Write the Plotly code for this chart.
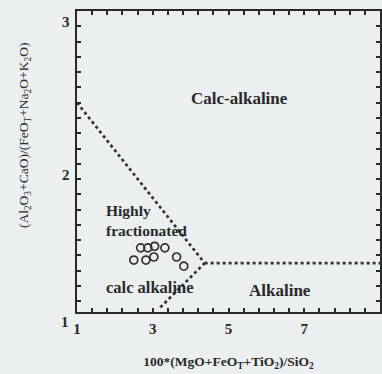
import plotly.graph_objects as go

# --- data ---
sample_x = [2.68, 2.87, 3.05, 3.32, 2.50, 2.82, 3.03, 3.63, 3.82]
sample_y = [1.45, 1.45, 1.46, 1.45, 1.37, 1.37, 1.39, 1.39, 1.33]

upper_line_x = [1.0, 4.37]
upper_line_y = [2.40, 1.35]
lower_line_x = [3.2, 4.37]
lower_line_y = [1.06, 1.35]
horiz_line_x = [4.37, 9.0]
horiz_line_y = [1.35, 1.35]

x_ticks = [1, 3, 5, 7, 9]
y_ticks = [1, 2, 3]
x_minor_step = 0.4
y_minor_step = 0.1

field_labels = ["Calc-alkaline", "Highly<br>fractionated", "calc alkaline", "Alkaline"]
field_x = [5.29, 1.72, 1.72, 6.37]
field_y = [2.43, 1.63, 1.19, 1.17]
field_anchor = ["center", "left", "left", "center"]
field_size = [17, 15.5, 16.5, 17]

BG = "rgb(236,239,240)"
INK = "#2a2a2a"
SERIF = "Liberation Serif, Times New Roman, serif"

W, H = 382, 374


def tick_positions(lo, hi, step):
    n = int(round((hi - lo) / step))
    return [round(lo + i * step, 3) for i in range(n + 1)]


x_tickvals = tick_positions(x_ticks[0], x_ticks[-1], x_minor_step)
x_ticktext = [f"<b>{int(v)}</b>" if any(abs(v - t) < 1e-6 for t in x_ticks) else "" for v in x_tickvals]
y_tickvals = tick_positions(y_ticks[0], y_ticks[-1], y_minor_step)

fig = go.Figure()
line_style = dict(color="#333333", width=2.7, dash="dot")
for lx, ly in [(upper_line_x, upper_line_y), (lower_line_x, lower_line_y), (horiz_line_x, horiz_line_y)]:
    fig.add_trace(go.Scatter(x=lx, y=ly, mode="lines", line=line_style,
                             hoverinfo="skip", showlegend=False))

fig.add_trace(go.Scatter(
    x=sample_x, y=sample_y, mode="markers",
    marker=dict(symbol="circle-open", size=8, color="#333333", line=dict(width=1.7)),
    showlegend=False))

# field labels
for txt, fx, fy, anc, sz in zip(field_labels, field_x, field_y, field_anchor, field_size):
    fig.add_annotation(x=fx, y=fy, text=f"<b>{txt}</b>", showarrow=False,
                       xanchor=anc, align="left",
                       font=dict(family=SERIF, size=sz, color=INK))

# y tick labels (shifted down like the reference)
for v in y_ticks:
    if v == y_ticks[0]:
        fig.add_annotation(x=1, xref="x", yref="paper", y=0, text=f"<b>{v}</b>",
                           showarrow=False, xshift=-12, yshift=-10,
                           xanchor="center", yanchor="middle",
                           font=dict(family=SERIF, size=15, color=INK))
    else:
        fig.add_annotation(x=1, y=v, text=f"<b>{v}</b>", showarrow=False,
                           xshift=-11, yshift=-11, xanchor="center", yanchor="middle",
                           font=dict(family=SERIF, size=15, color=INK))

# y axis title
fig.add_annotation(xref="paper", yref="paper", x=-0.171, y=0.585,
                   text="(Al<sub>2</sub>O<sub>3</sub>+CaO)/(FeO<sub>T</sub>+Na<sub>2</sub>O+K<sub>2</sub>O)",
                   textangle=-90, showarrow=False, xanchor="center", yanchor="middle",
                   font=dict(family=SERIF, size=13.5, color=INK))

axis_common = dict(showline=True, linewidth=2, linecolor=INK, mirror="allticks",
                   ticks="inside", tickcolor=INK, showgrid=False, zeroline=False,
                   automargin=False)

fig.update_layout(
    xaxis=dict(range=[1, 9], tickmode="array", tickvals=x_tickvals, ticktext=x_ticktext,
               ticklen=4, tickwidth=1.5, ticklabelstandoff=2,
               tickfont=dict(family=SERIF, size=15, color=INK),
               title=dict(text="<b>100*(MgO+FeO<sub>T</sub>+TiO<sub>2</sub>)/SiO<sub>2</sub></b>",
                          font=dict(family=SERIF, size=13.5, color=INK), standoff=21),
               **axis_common),
    yaxis=dict(range=[1.03, 3.0], tickmode="array", tickvals=y_tickvals,
               ticklen=4, tickwidth=1.5, showticklabels=False, **axis_common),
    width=W, height=H,
    margin=dict(l=77, r=2, t=11, b=62),
    paper_bgcolor=BG, plot_bgcolor=BG,
    showlegend=False,
)

fig.write_html(
    "out.html",
    config={"displayModeBar": False},
    post_script="document.body.style.margin='0';document.body.style.overflow='hidden';"
                "document.body.style.background='" + BG + "';",
)
